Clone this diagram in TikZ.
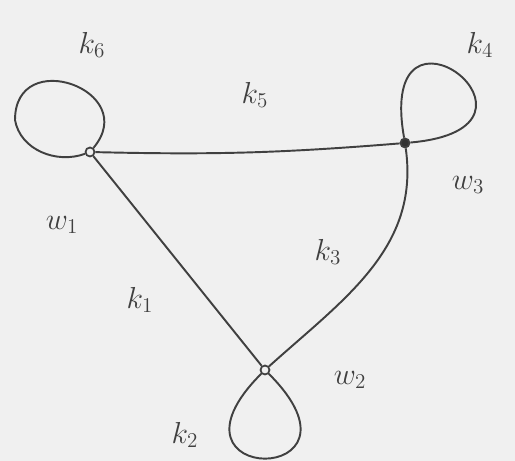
\documentclass[tikz,border=0pt]{standalone}
\usetikzlibrary{positioning}

\begin{document}
\begin{tikzpicture}[
        vertex/.style={circle, draw=black!75, line width=1pt,
                       inner sep=0pt, minimum size=0.18cm},
        dot/.style={vertex, fill=black!80},
        lbl/.style={font=\LARGE, text=black!75},
        edge/.style={draw=black!75, line width=1.1pt}
    ]
        \fill[gray!12] (0,0) rectangle (10.3,9.22);
        \useasboundingbox (0,0) rectangle (10.3,9.22);

        \node[vertex] (w1) at (1.8, 6.18) {};
        \node[dot]    (w3) at (8.1, 6.36) {};
        \node[vertex] (w2) at (5.3, 1.82) {};
        \coordinate (c6) at (0.3, 6.82);

        \draw[edge] (w1) to[bend right=3] (w3);
        \draw[edge] (w1) -- (w2);
        \draw[edge] (w3) to[out=-82, in=42] (w2);

        % loops
        \draw[edge] (w1) to[out=200, in=-80] (c6)
                         to[out=90, in=50, looseness=2.3] (w1);
        \draw[edge] (w3) to[out=100, in=5, min distance=3.3cm] (w3);
        \draw[edge] (w2) to[out=225, in=315, min distance=3.2cm] (w2);

        \node[lbl] (k6) at (1.84, 8.32) {$k_6$};
        \node[lbl] (k5) at (5.10, 7.32) {$k_5$};
        \node[lbl] (k4) at (9.60, 8.32) {$k_4$};
        \node[lbl] (l3) at (9.36, 5.52) {$w_3$};
        \node[lbl] (l1) at (1.24, 4.72) {$w_1$};
        \node[lbl] (k3) at (6.56, 4.18) {$k_3$};
        \node[lbl] (k1) at (2.80, 3.22) {$k_1$};
        \node[lbl] (l2) at (7.00, 1.62) {$w_2$};
        \node[lbl] (k2) at (3.70, 0.52) {$k_2$};
    \end{tikzpicture}
\end{document}
